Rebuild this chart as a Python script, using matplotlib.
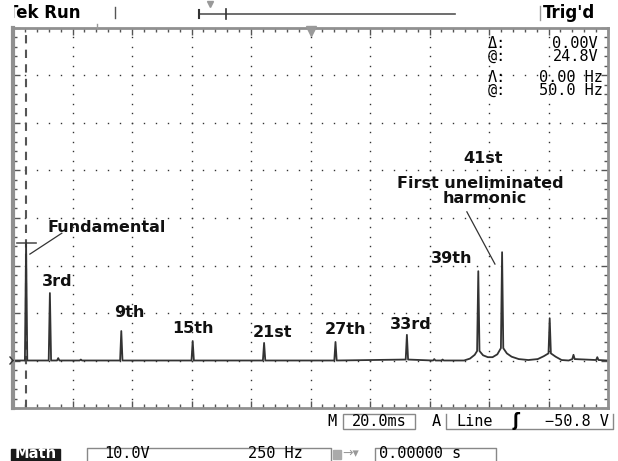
import numpy as np
import matplotlib
matplotlib.use("Agg")
import matplotlib.pyplot as plt
from matplotlib.patches import Rectangle

# harmonic spectrum (10 V/div, 250 Hz/div)
orders = [1, 3, 9, 15, 21, 27, 33, 39, 41, 45, 47, 49]
peak_v = [24.8, 14.2, 6.2, 4.1, 3.7, 3.9, 5.4, 18.8, 22.8, 8.9, 1.2, 0.7]
foot_v = [0, 0, 0, 0, 0, 0, 0.2, 2.0, 2.6, 1.5, 0.3, 0.1]
fund_hz = 50

# skirts of the trace around 39th/41st/45th
skirt_hz = [1890, 1915, 1935, 1970, 1990, 2010, 2030, 2070, 2090, 2120, 2160, 2200, 2225, 2275, 2300, 2330]
skirt_v = [0, 0.4, 1.2, 1.1, 0.7, 0.7, 1.3, 1.5, 0.8, 0.3, 0.1, 0.3, 0.9, 0.8, 0.1, 0]

# small noise bumps on the baseline
noise_hz = [185, 280, 1765, 1800]
noise_v = [0.5, 0.2, 0.3, 0.2]

# labels: text, centre Hz, baseline V
lab_text = ["Fundamental", "3rd", "9th", "15th", "21st", "27th", "33rd", "39th", "41st",
            "First uneliminated", "harmonic"]
lab_hz = [388, 182, 482, 749, 1085, 1394, 1665, 1840, 1970, 1959, 1976]
lab_v = [27.05, 15.7, 9.2, 5.8, 4.95, 5.6, 6.6, 20.5, 41.6, 36.3, 33.2]

cursor_hz = 50
cursor_v = 24.8

fig = plt.figure(figsize=(6.18, 4.61), dpi=100)
fig.patch.set_facecolor("white")

ax = fig.add_axes([13/618, 53/461, 595/618, 380/461])
ax.set_xlim(-5, 2495)
ax.set_ylim(-10, 70)

# graticule
div_x = [-5 + 250*k for k in range(11)]
div_y = [-10 + 10*k for k in range(9)]
ax.set_xticks(div_x)
ax.set_xticks([-5 + 50*k for k in range(51)], minor=True)
ax.set_yticks(div_y)
ax.set_yticks([-10 + 2*k for k in range(41)], minor=True)
ax.tick_params(which="both", direction="in", top=True, right=True,
               labelbottom=False, labelleft=False, color="#555555", width=1)
ax.tick_params(which="major", length=5)
ax.tick_params(which="minor", length=3)
for s in ax.spines.values():
    s.set_color("#909090")
    s.set_linewidth(2)
ax.spines["left"].set_linewidth(3)

yd = np.arange(-8, 69, 2)
for xg in div_x[1:-1]:
    ax.plot([xg]*len(yd), yd, ls="none", marker="s", ms=1.0, mew=0, color="#333333")
xd = np.arange(45, 2495, 50)
for yg in div_y[1:-1]:
    ax.plot(xd, [yg]*len(xd), ls="none", marker="s", ms=1.0, mew=0, color="#333333")

# cursors
ax.axvline(cursor_hz, color="#555555", lw=1.5, ls=(0, (4, 3)))
ax.plot([10, 92], [cursor_v, cursor_v], color="#555555", lw=1.2)

# build the trace
pts = [(-5, 0), (2495, 0)] + list(zip(skirt_hz, skirt_v))
for f, v in zip(noise_hz, noise_v):
    pts += [(f - 5, 0), (f, v), (f + 5, 0)]
for o, pk, ft in zip(orders, peak_v, foot_v):
    f = o * fund_hz
    pts += [(f - 5, ft), (f, pk), (f + 5, ft)]
pts.sort()
tx = [p[0] for p in pts]
ty = [p[1] for p in pts]
ax.plot(tx, ty, color="#333333", lw=1.3)

for t, x, y in zip(lab_text, lab_hz, lab_v):
    ax.text(x, y, t, ha="center", va="baseline", fontsize=11.5, fontweight="bold",
            family="DejaVu Sans", color="#111111")
ax.plot([66, 200], [22.4, 26.8], color="#333333", lw=0.9)
ax.plot([1902, 2020], [31.3, 20.3], color="#333333", lw=0.9)

# overlay in pixel coordinates for the scope status texts
ov = fig.add_axes([0, 0, 1, 1], zorder=5)
ov.set_xlim(0, 618)
ov.set_ylim(461, 0)
ov.axis("off")

mono = dict(family="DejaVu Sans Mono", fontsize=11, color="black", va="baseline")
bold = dict(family="DejaVu Sans", fontsize=12, fontweight="bold", color="black", va="baseline")

ov.text(7, 18, "Tek Run", **bold)
ov.add_patch(Rectangle((0, 0), 12.5, 23, color="white", zorder=6))
ov.plot([115, 115], [7, 18], color="#555555", lw=1)
ov.plot([200, 455], [14, 14], color="#555555", lw=1.2)
ov.plot([199, 199], [10, 18], color="#333333", lw=1.5)
ov.plot([226, 226], [9, 19], color="#333333", lw=1.2)
ov.plot([210], [4], marker="v", ms=4, color="#999999")
ov.plot([540, 540], [6, 20], color="#999999", lw=1)
ov.text(543, 17.5, "Trig'd", **bold)
ov.plot([311], [31], marker="v", ms=7, color="#999999")
ov.plot([97, 97], [24, 28], color="#999999", lw=1)

# cursor readouts, two lines per block
ov.text(488, 61, "\u0394:\n@:", linespacing=0.85, **mono)
ov.text(598, 61, "0.00V\n24.8V", ha="right", multialignment="right", linespacing=0.85, **mono)
ov.text(488, 95, "\u039b:\n@:", linespacing=0.85, **mono)
ov.text(603, 95, "0.00 Hz\n50.0 Hz", ha="right", multialignment="right", linespacing=0.85, **mono)

ov.plot([10, 13], [357, 360.5], color="#333333", lw=1)
ov.plot([10, 13], [364, 360.5], color="#333333", lw=1)

# bottom status lines
ov.text(327, 426, "M", **mono)
ov.add_patch(Rectangle((343, 414), 72, 15, fill=False, ec="#888888", lw=1))
ov.text(379, 426, "20.0ms", ha="center", **mono)
ov.text(432, 426, "A", **mono)
ov.plot([446, 446, 613, 613], [414, 429, 429, 414], color="#888888", lw=1)
ov.text(456, 426, "Line", **mono)
ov.text(516, 426, "\u0283", ha="center", family="DejaVu Sans", fontsize=12,
        fontweight="bold", va="baseline")
ov.text(609, 426, "\u221250.8 V", ha="right", **mono)

ov.add_patch(Rectangle((11, 449), 49, 13, color="#1a1a1a"))
ov.text(35.5, 458, "Math", ha="center", va="baseline", family="DejaVu Sans",
        fontsize=10.5, fontweight="bold", color="white")
ov.plot([86.5, 86.5, 331, 331], [462, 448, 448, 462], color="#888888", lw=1)
ov.text(104, 457.5, "10.0V", **mono)
ov.text(248, 457.5, "250 Hz", **mono)
ov.add_patch(Rectangle((333, 450), 8, 9, color="#aaaaaa"))
ov.text(342, 457.5, "\u2192\u25be", family="DejaVu Sans", fontsize=9,
        color="#999999", va="baseline")
ov.plot([375, 375, 496, 496], [462, 448, 448, 462], color="#888888", lw=1)
ov.text(379, 457.5, "0.00000 s", **mono)

fig.savefig("out.png", dpi=100, facecolor="white")
